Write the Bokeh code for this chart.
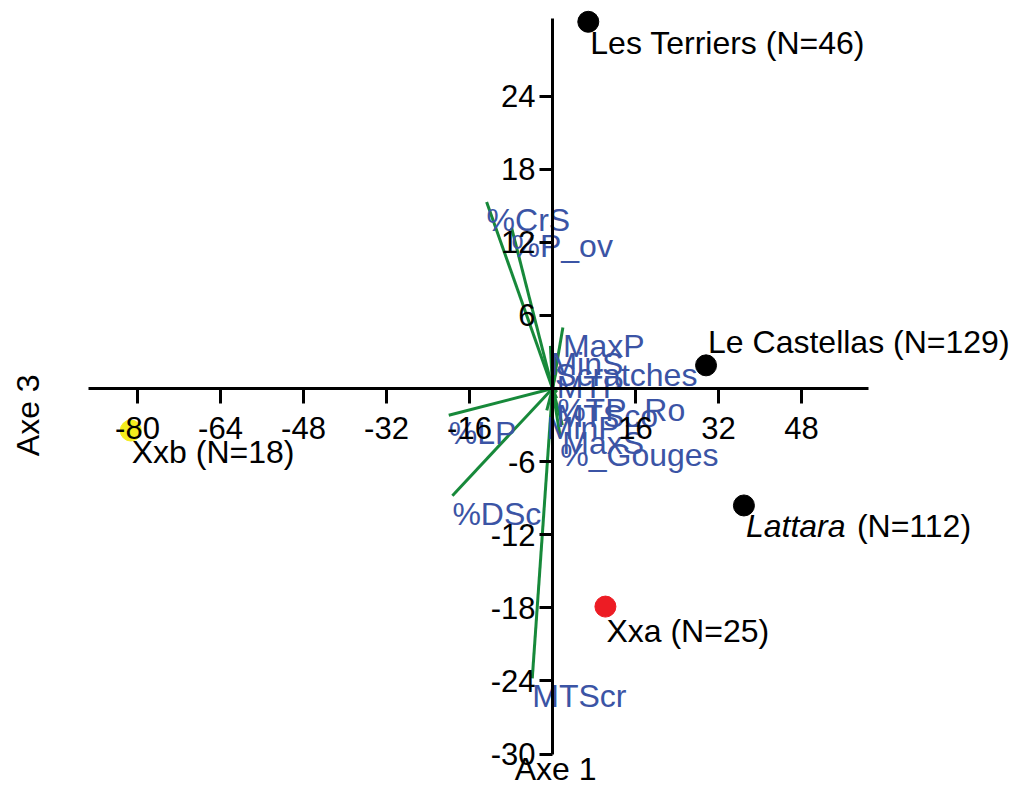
import math
from bokeh.plotting import figure
from bokeh.models import FixedTicker, Range1d, ColumnDataSource, Label
from bokeh.embed import file_html
from bokeh.resources import INLINE
from bokeh.core.properties import value

# ---------------- data ----------------
x_ticks = [-80, -64, -48, -32, -16, 16, 32, 48]
y_ticks = [-30, -24, -18, -12, -6, 6, 12, 18, 24]

sites = ["Les Terriers", "Le Castellas", "Lattara", "Xxa", "Xxb"]
site_n = [46, 129, 112, 25, 18]
site_x = [6.9, 29.6, 36.9, 10.2, -81.3]
site_y = [30.1, 1.9, -9.6, -17.9, -3.45]
site_italic = [False, False, True, False, False]
site_colors = ["#000000", "#000000", "#000000", "#ED1C24", "#F4EC1C"]

var_names = ["%CrS", "%P_ov", "MaxP", "MinS", "Scratches", "MTP", "%TP_Ro",
             "MTSco", "MinP", "MaxS", "%_Gouges", "%LP", "%DSc", "MTScr"]
var_x = [-12.7, -7.9, 2.0, -0.4, 0.5, 0.8, 0.9, 0.8, -1.1, 1.9, 1.5, -20.0, -19.3, -3.9]
var_y = [15.3, 13.2, 5.0, 3.5, 2.6, 1.6, -0.3, -0.8, -1.8, -3.0, -4.0, -2.2, -8.8, -23.8]

# ---------------- layout / styles ----------------
W, H = 1012, 789
SX = 83.0 / 16      # px per unit on Axe 1
SY = 73.1 / 6       # px per unit on Axe 3
OX, OY = 552, 388   # canvas position of origin
FONT = "Liberation Sans"
FS_TICK = "31px"
FS = "32px"
BLUE = "#3B54A5"
GREEN = "#17893A"

# label offsets in screen px
lab_dx = [2, 2, 2, 1, 1]
lab_dy = [21, -23, 21, 24, 21]
italic_extra = 113  # px from dot to the "(N=..)" part after an italic name

p = figure(width=W, height=H,
           x_range=Range1d(-OX / SX, (W - OX) / SX),
           y_range=Range1d(-(H - OY) / SY, OY / SY),
           output_backend="svg", toolbar_location=None, min_border=0)
p.outline_line_color = None
p.grid.visible = False
p.background_fill_color = "white"

for ax in (p.xaxis, p.yaxis):
    ax.fixed_location = 0
    ax.axis_line_width = 3
    ax.axis_line_color = "black"
    ax.major_tick_line_width = 3
    ax.major_tick_in = 0
    ax.minor_tick_in = 0
    ax.minor_tick_out = 0
    ax.major_label_text_font = FONT
    ax.major_label_text_font_size = FS_TICK
    ax.major_label_text_color = "black"

p.xaxis.ticker = FixedTicker(ticks=x_ticks)
p.yaxis.ticker = FixedTicker(ticks=y_ticks)
p.xaxis.major_label_overrides = {t: str(t) for t in x_ticks}
p.yaxis.major_label_overrides = {t: str(t) for t in y_ticks}
p.xaxis.bounds = (-89.4, 60.9)
p.yaxis.bounds = (-30, 30.4)
p.xaxis.major_tick_out = 15
p.xaxis.major_label_standoff = 13
p.yaxis.major_tick_out = 13
p.yaxis.major_label_standoff = 4

# vectors
vsrc = ColumnDataSource(dict(x0=[0] * len(var_x), y0=[0] * len(var_y),
                             x1=var_x, y1=var_y, name=var_names))
p.segment(x0="x0", y0="y0", x1="x1", y1="y1", source=vsrc,
          line_color=GREEN, line_width=3)
p.text(x="x1", y="y1", text="name", source=vsrc, text_color=BLUE,
       text_font=value(FONT), text_font_size=FS,
       text_align="left", text_baseline="top")

# sites
ssrc = ColumnDataSource(dict(x=site_x, y=site_y, c=site_colors))
p.scatter(x="x", y="y", source=ssrc, size=21, fill_color="c",
          line_color="c", marker="circle")

for name, n, x, y, it, dx, dy in zip(sites, site_n, site_x, site_y,
                                     site_italic, lab_dx, lab_dy):
    if it:
        p.text(x=[x], y=[y], text=[name], x_offset=dx, y_offset=dy,
               text_font=value(FONT), text_font_size=FS,
               text_font_style="italic", text_color="black",
               text_align="left", text_baseline="alphabetic")
        p.text(x=[x], y=[y], text=[f"(N={n})"], x_offset=italic_extra,
               y_offset=dy, text_font=value(FONT), text_font_size=FS,
               text_color="black", text_align="left",
               text_baseline="alphabetic")
    else:
        p.text(x=[x], y=[y], text=[f"{name} (N={n})"], x_offset=dx,
               y_offset=dy, text_font=value(FONT), text_font_size=FS,
               text_color="black", text_align="left",
               text_baseline="alphabetic")

# axis titles
p.add_layout(Label(x=0.6, y=-31.2, text="Axe 1", text_font=FONT,
                   text_font_size=FS, text_color="black",
                   text_align="center", text_baseline="middle"))
p.add_layout(Label(x=-101.2, y=-2.2, text="Axe 3", text_font=FONT,
                   text_font_size=FS, text_color="black",
                   text_align="center", text_baseline="middle",
                   angle=math.pi / 2))

open("out.html", "w").write(file_html(p, INLINE))
